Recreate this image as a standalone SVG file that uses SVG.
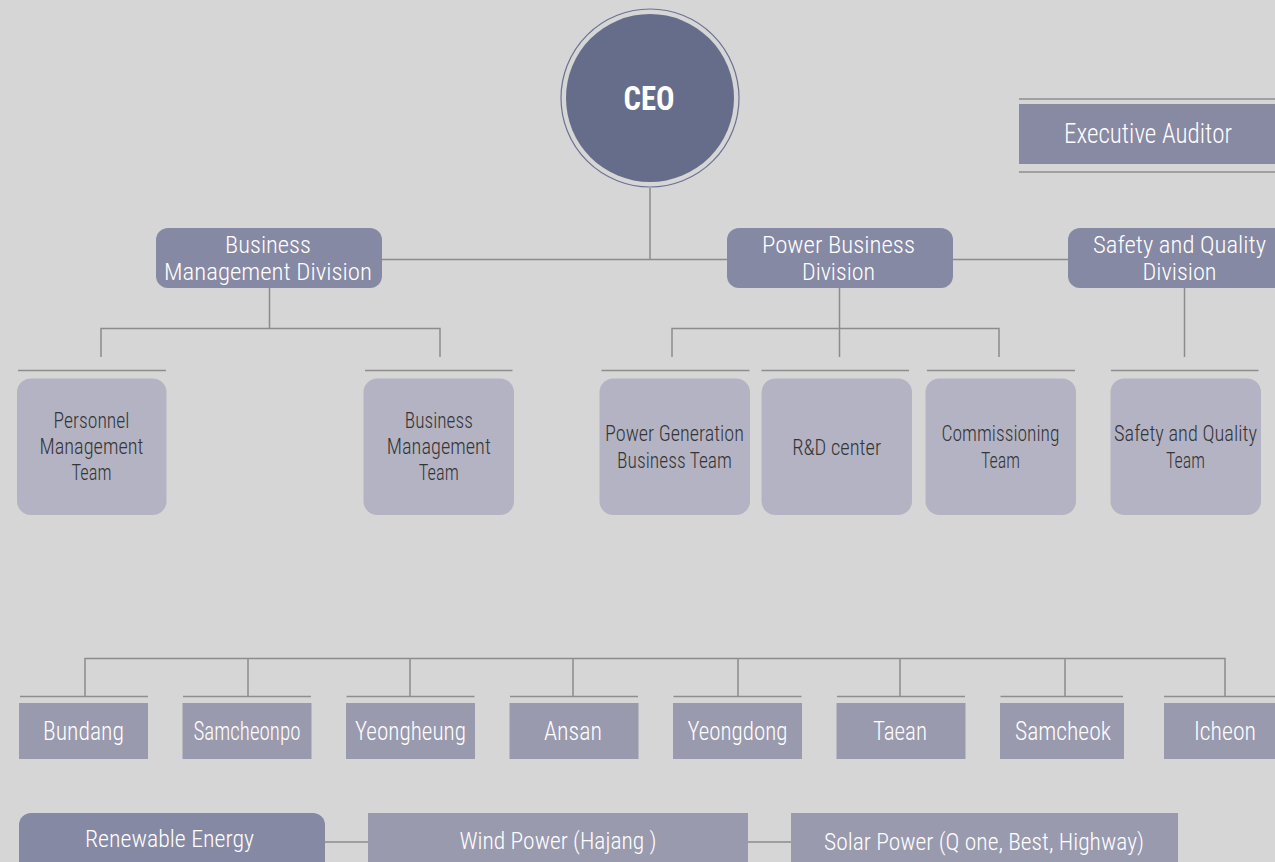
<svg xmlns="http://www.w3.org/2000/svg" width="1275" height="862" viewBox="0 0 1275 862">
<style>
text{font-family:"Roboto Condensed",Roboto,"Liberation Sans",sans-serif;text-anchor:middle;font-weight:300}
.w{fill:#ffffff}
.d{fill:#353535}
.div{fill:#8689a3}
.team{fill:#b3b3c4}
.loc{fill:#9a9aaf}
.ln{stroke:#8c8c8c;stroke-width:1.5;fill:none}
.sep{stroke:#8e8e8e;stroke-width:1.5}
</style>
<rect width="1275" height="862" fill="#d6d6d6"/>
<g id="connectors" class="ln">
<path d="M650 188V259.5M382 259.5H727M953 259.5H1068"/>
<path d="M269.5 288V328.5M101 357V328.5H440V357"/>
<path d="M839.5 288V357M672 357V328.5H999V357"/>
<path d="M1184.5 288V357"/>
<path d="M85 696V658.5H1225V696M248 658.5V696M410 658.5V696M573 658.5V696M738 658.5V696M900 658.5V696M1065 658.5V696"/>
<path d="M325 842H368M748 842H791"/>
</g>
<g id="ceo">
<circle cx="650" cy="98" r="89" fill="none" stroke="#6b7290" stroke-width="1.2"/>
<circle cx="650" cy="98" r="84" fill="#666d8a"/>
<text x="649" y="110" class="w" font-size="34" style="font-weight:bold" textLength="51" lengthAdjust="spacingAndGlyphs">CEO</text>
</g>
<g id="auditor">
<line x1="1019" y1="99" x2="1275" y2="99" class="sep"/>
<rect x="1019" y="104" width="256" height="60" fill="#8889a3"/>
<line x1="1019" y1="172" x2="1275" y2="172" class="sep"/>
<text x="1148" y="142.5" class="w" font-size="27" textLength="168" lengthAdjust="spacingAndGlyphs">Executive Auditor</text>
</g>
<g id="bmd">
<rect x="156" y="228" width="226" height="60" rx="12" class="div"/>
<text x="268" y="253.3" class="w" font-size="23" textLength="86" lengthAdjust="spacingAndGlyphs">Business</text>
<text x="268" y="280" class="w" font-size="23" textLength="208" lengthAdjust="spacingAndGlyphs">Management Division</text>
</g>
<g id="pbd">
<rect x="727" y="228" width="226" height="60" rx="12" class="div"/>
<text x="838.5" y="252.8" class="w" font-size="23" textLength="153" lengthAdjust="spacingAndGlyphs">Power Business</text>
<text x="838.5" y="280" class="w" font-size="23" textLength="73" lengthAdjust="spacingAndGlyphs">Division</text>
</g>
<g id="sqd">
<rect x="1068" y="228" width="225" height="60" rx="12" class="div"/>
<text x="1179.5" y="253.3" class="w" font-size="23" textLength="173" lengthAdjust="spacingAndGlyphs">Safety and Quality</text>
<text x="1179.5" y="280" class="w" font-size="23" textLength="74" lengthAdjust="spacingAndGlyphs">Division</text>
</g>
<g id="personnel">
<line x1="18" y1="370.5" x2="166" y2="370.5" class="sep"/>
<rect x="17" y="378.5" width="149.5" height="136.5" rx="14" class="team"/>
<text x="91.5" y="427.7" class="d" font-size="22" textLength="76" lengthAdjust="spacingAndGlyphs">Personnel</text>
<text x="91.5" y="454.3" class="d" font-size="22" textLength="104" lengthAdjust="spacingAndGlyphs">Management</text>
<text x="91.5" y="480" class="d" font-size="22" textLength="40" lengthAdjust="spacingAndGlyphs">Team</text>
</g>
<g id="bmteam">
<line x1="365" y1="370.5" x2="512.5" y2="370.5" class="sep"/>
<rect x="363.5" y="378.5" width="150.5" height="136.5" rx="14" class="team"/>
<text x="438.8" y="427.7" class="d" font-size="22" textLength="68" lengthAdjust="spacingAndGlyphs">Business</text>
<text x="438.8" y="454.3" class="d" font-size="22" textLength="104" lengthAdjust="spacingAndGlyphs">Management</text>
<text x="438.8" y="480" class="d" font-size="22" textLength="40" lengthAdjust="spacingAndGlyphs">Team</text>
</g>
<g id="pgteam">
<line x1="601.5" y1="370.5" x2="749.5" y2="370.5" class="sep"/>
<rect x="599.5" y="378.5" width="150.5" height="136.5" rx="14" class="team"/>
<text x="674.5" y="441" class="d" font-size="22" textLength="139" lengthAdjust="spacingAndGlyphs">Power Generation</text>
<text x="674.5" y="467.7" class="d" font-size="22" textLength="115" lengthAdjust="spacingAndGlyphs">Business Team</text>
</g>
<g id="rd">
<line x1="761.5" y1="370.5" x2="909" y2="370.5" class="sep"/>
<rect x="761.5" y="378.5" width="150.5" height="136.5" rx="14" class="team"/>
<text x="836.7" y="455" class="d" font-size="22" textLength="89" lengthAdjust="spacingAndGlyphs">R&amp;D center</text>
</g>
<g id="commissioning">
<line x1="927" y1="370.5" x2="1075" y2="370.5" class="sep"/>
<rect x="925.5" y="378.5" width="150.5" height="136.5" rx="14" class="team"/>
<text x="1000.5" y="441" class="d" font-size="22" textLength="118" lengthAdjust="spacingAndGlyphs">Commissioning</text>
<text x="1000.5" y="467.7" class="d" font-size="22" textLength="39" lengthAdjust="spacingAndGlyphs">Team</text>
</g>
<g id="sqteam">
<line x1="1111" y1="370.5" x2="1258.5" y2="370.5" class="sep"/>
<rect x="1110.5" y="378.5" width="150.5" height="136.5" rx="14" class="team"/>
<text x="1185.5" y="441" class="d" font-size="22" textLength="143" lengthAdjust="spacingAndGlyphs">Safety and Quality</text>
<text x="1185.5" y="467.7" class="d" font-size="22" textLength="39" lengthAdjust="spacingAndGlyphs">Team</text>
</g>
<g id="bundang">
<line x1="20" y1="696.5" x2="148" y2="696.5" class="sep"/>
<rect x="19" y="703" width="129" height="56" class="loc"/>
<text x="83.5" y="739.5" class="w" font-size="26" textLength="81" lengthAdjust="spacingAndGlyphs">Bundang</text>
</g>
<g id="samcheonpo">
<line x1="183" y1="696.5" x2="311" y2="696.5" class="sep"/>
<rect x="182.5" y="703" width="129" height="56" class="loc"/>
<text x="247" y="739.5" class="w" font-size="26" textLength="107" lengthAdjust="spacingAndGlyphs">Samcheonpo</text>
</g>
<g id="yeongheung">
<line x1="346.5" y1="696.5" x2="474.5" y2="696.5" class="sep"/>
<rect x="346" y="703" width="129" height="56" class="loc"/>
<text x="410.5" y="739.5" class="w" font-size="26" textLength="111" lengthAdjust="spacingAndGlyphs">Yeongheung</text>
</g>
<g id="ansan">
<line x1="510" y1="696.5" x2="638" y2="696.5" class="sep"/>
<rect x="509.5" y="703" width="129" height="56" class="loc"/>
<text x="573" y="739.5" class="w" font-size="26" textLength="58" lengthAdjust="spacingAndGlyphs">Ansan</text>
</g>
<g id="yeongdong">
<line x1="673.5" y1="696.5" x2="801.5" y2="696.5" class="sep"/>
<rect x="673" y="703" width="129" height="56" class="loc"/>
<text x="737.5" y="739.5" class="w" font-size="26" textLength="100" lengthAdjust="spacingAndGlyphs">Yeongdong</text>
</g>
<g id="taean">
<line x1="837" y1="696.5" x2="965" y2="696.5" class="sep"/>
<rect x="836.5" y="703" width="129" height="56" class="loc"/>
<text x="900" y="739.5" class="w" font-size="26" textLength="54" lengthAdjust="spacingAndGlyphs">Taean</text>
</g>
<g id="samcheok">
<line x1="1000.5" y1="696.5" x2="1123" y2="696.5" class="sep"/>
<rect x="1000" y="703" width="124" height="56" class="loc"/>
<text x="1063" y="739.5" class="w" font-size="26" textLength="96" lengthAdjust="spacingAndGlyphs">Samcheok</text>
</g>
<g id="icheon">
<line x1="1164" y1="696.5" x2="1275" y2="696.5" class="sep"/>
<rect x="1164" y="703" width="111" height="56" class="loc"/>
<text x="1225" y="739.5" class="w" font-size="26" textLength="62" lengthAdjust="spacingAndGlyphs">Icheon</text>
</g>
<g id="renewable">
<rect x="19" y="813" width="306" height="70" rx="12" class="div"/>
<text x="169.5" y="847" class="w" font-size="23" textLength="169" lengthAdjust="spacingAndGlyphs">Renewable Energy</text>
</g>
<g id="wind">
<rect x="368" y="813" width="380" height="60" class="loc"/>
<text x="558" y="849" class="w" font-size="23" textLength="197" lengthAdjust="spacingAndGlyphs">Wind Power (Hajang )</text>
</g>
<g id="solar">
<rect x="791" y="813" width="387" height="60" class="loc"/>
<text x="984" y="849.5" class="w" font-size="23" textLength="320" lengthAdjust="spacingAndGlyphs">Solar Power (Q one, Best, Highway)</text>
</g>
</svg>
